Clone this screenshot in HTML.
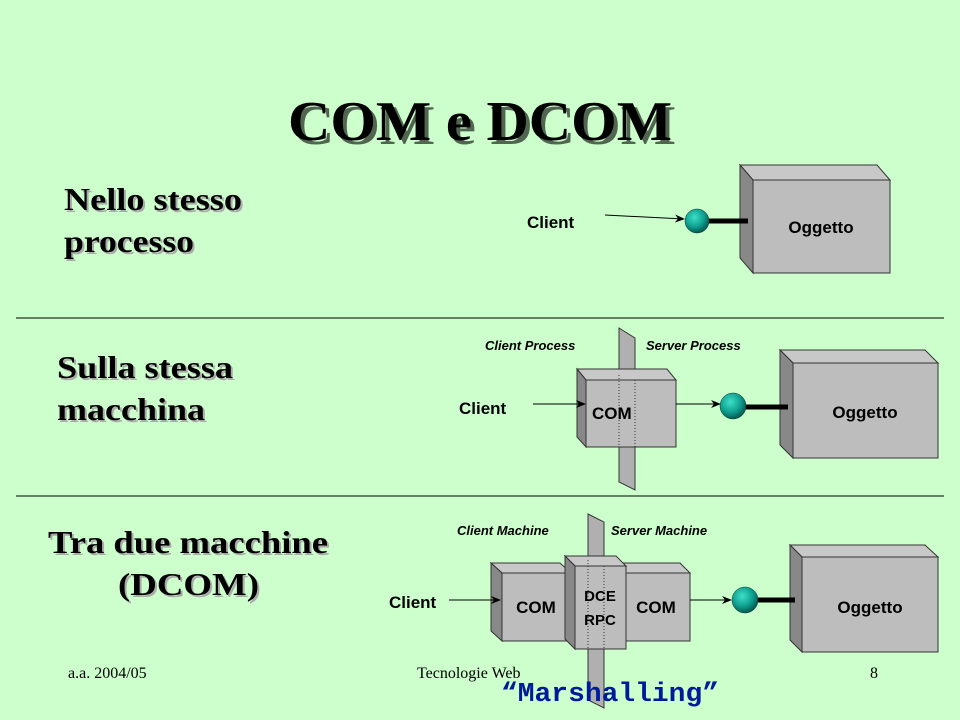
<!DOCTYPE html>
<html><head><meta charset="utf-8"><style>
html,body{margin:0;padding:0;background:#ccffcc;}
svg{display:block}
.h{font-family:"Liberation Serif",serif;font-weight:bold;fill:#000}
.s{font-family:"Liberation Sans",sans-serif;font-weight:bold;fill:#000}
.it{font-family:"Liberation Sans",sans-serif;font-weight:bold;font-style:italic;fill:#000;font-size:13px}
.f{font-family:"Liberation Serif",serif;font-size:16px;fill:#000}
</style></head><body>
<svg width="960" height="720" viewBox="0 0 960 720" xmlns="http://www.w3.org/2000/svg">
<defs>
<radialGradient id="ball" cx="40%" cy="35%" r="65%"><stop offset="0" stop-color="#3de0c8"/><stop offset="0.6" stop-color="#0fa090"/><stop offset="1" stop-color="#045a50"/></radialGradient>
<marker id="ar" markerWidth="10" markerHeight="8" refX="9" refY="4" orient="auto" markerUnits="userSpaceOnUse"><path d="M0,0 L10,4 L0,8 L3,4 z" fill="#000"/></marker>
</defs>
<rect width="960" height="720" fill="#ccffcc"/>
<!-- title -->
<text x="482" y="142" class="h" font-size="56" text-anchor="middle" textLength="384" lengthAdjust="spacingAndGlyphs" fill="#999" opacity="0.6" transform="translate(2,2)">COM e DCOM</text>
<text x="480" y="140" class="h" font-size="56" text-anchor="middle" textLength="384" lengthAdjust="spacingAndGlyphs">COM e DCOM</text>
<!-- headings -->
<g class="h" font-size="32">
<text x="66" y="212" fill="#aaa" textLength="178" lengthAdjust="spacingAndGlyphs">Nello stesso</text>
<text x="64" y="210" textLength="178" lengthAdjust="spacingAndGlyphs">Nello stesso</text>
<text x="66" y="254" fill="#aaa" textLength="130" lengthAdjust="spacingAndGlyphs">processo</text>
<text x="64" y="252" textLength="130" lengthAdjust="spacingAndGlyphs">processo</text>
<text x="59" y="380" fill="#aaa" textLength="176" lengthAdjust="spacingAndGlyphs">Sulla stessa</text>
<text x="57" y="378" textLength="176" lengthAdjust="spacingAndGlyphs">Sulla stessa</text>
<text x="59" y="422" fill="#aaa" textLength="148" lengthAdjust="spacingAndGlyphs">macchina</text>
<text x="57" y="420" textLength="148" lengthAdjust="spacingAndGlyphs">macchina</text>
<text x="50" y="555" fill="#aaa" textLength="280" lengthAdjust="spacingAndGlyphs">Tra due macchine</text>
<text x="48" y="553" textLength="280" lengthAdjust="spacingAndGlyphs">Tra due macchine</text>
<text x="120" y="597" fill="#aaa" textLength="141" lengthAdjust="spacingAndGlyphs">(DCOM)</text>
<text x="118" y="595" textLength="141" lengthAdjust="spacingAndGlyphs">(DCOM)</text>
</g>
<line x1="16" y1="318" x2="944" y2="318" stroke="#000" stroke-width="1"/>
<line x1="16" y1="496" x2="944" y2="496" stroke="#000" stroke-width="1"/>

<!-- section 1 -->
<g stroke="#333" stroke-width="1">
<polygon points="740,165 877,165 890,180 753,180" fill="#c8c8c8"/>
<polygon points="740,165 753,180 753,273 740,258" fill="#888"/>
<rect x="753" y="180" width="137" height="93" fill="#bdbdbd"/>
</g>
<text x="821" y="233" class="s" font-size="17" text-anchor="middle">Oggetto</text>
<line x1="709" y1="221" x2="748" y2="221" stroke="#000" stroke-width="5"/>
<line x1="605" y1="215" x2="684" y2="219" stroke="#000" stroke-width="1" marker-end="url(#ar)"/>
<circle cx="697" cy="221" r="12" fill="url(#ball)" stroke="#033" stroke-width="0.5"/>
<text x="527" y="228" class="s" font-size="17">Client</text>

<!-- section 2 -->
<text x="485" y="350" class="it">Client Process</text>
<text x="646" y="350" class="it">Server Process</text>
<g stroke="#333" stroke-width="1">
<polygon points="619,328 635,338 635,388 619,380" fill="#b0b0b0"/>
<polygon points="577,369 667,369 676,380 586,380" fill="#c8c8c8"/>
<polygon points="577,369 586,380 586,447 577,437" fill="#888"/>
<rect x="586" y="380" width="90" height="67" fill="#bdbdbd"/>
<polygon points="619,447 635,447 635,490 619,482" fill="#b0b0b0"/>
</g>
<line x1="619" y1="375" x2="619" y2="447" stroke="#333" stroke-dasharray="1,2"/>
<line x1="635" y1="380" x2="635" y2="447" stroke="#333" stroke-dasharray="1,2"/>
<text x="592" y="419" class="s" font-size="17">COM</text>
<text x="459" y="414" class="s" font-size="17">Client</text>
<line x1="533" y1="404" x2="585" y2="404" stroke="#000" marker-end="url(#ar)"/>
<line x1="676" y1="404" x2="720" y2="404" stroke="#000" marker-end="url(#ar)"/>
<g stroke="#333" stroke-width="1">
<polygon points="780,350 925,350 938,363 793,363" fill="#c8c8c8"/>
<polygon points="780,350 793,363 793,458 780,445" fill="#888"/>
<rect x="793" y="363" width="145" height="95" fill="#bdbdbd"/>
</g>
<text x="865" y="418" class="s" font-size="17" text-anchor="middle">Oggetto</text>
<line x1="745" y1="407" x2="788" y2="407" stroke="#000" stroke-width="5"/>
<circle cx="733" cy="406" r="13" fill="url(#ball)" stroke="#033" stroke-width="0.5"/>

<!-- section 3 -->
<text x="457" y="535" class="it">Client Machine</text>
<text x="611" y="535" class="it">Server Machine</text>
<g stroke="#333" stroke-width="1">
<polygon points="588,514 604,522 604,575 588,566" fill="#b0b0b0"/>
<polygon points="491,563 560,563 571,573 502,573" fill="#c8c8c8"/>
<polygon points="491,563 502,573 502,641 491,631" fill="#888"/>
<rect x="502" y="573" width="69" height="68" fill="#bdbdbd"/>
<polygon points="615,563 680,563 690,573 626,573" fill="#c8c8c8"/>
<rect x="626" y="573" width="64" height="68" fill="#bdbdbd"/>
<polygon points="565,556 616,556 626,566 575,566" fill="#c8c8c8"/>
<polygon points="565,556 575,566 575,649 565,639" fill="#888"/>
<rect x="575" y="566" width="51" height="83" fill="#bdbdbd"/>
<polygon points="588,649 604,649 604,708 588,700" fill="#b0b0b0"/>
</g>
<line x1="588" y1="560" x2="588" y2="649" stroke="#333" stroke-dasharray="1,2"/>
<line x1="604" y1="566" x2="604" y2="649" stroke="#333" stroke-dasharray="1,2"/>
<text x="536" y="613" class="s" font-size="17" text-anchor="middle">COM</text>
<text x="600" y="601" class="s" font-size="15" text-anchor="middle">DCE</text>
<text x="600" y="625" class="s" font-size="15" text-anchor="middle">RPC</text>
<text x="656" y="613" class="s" font-size="17" text-anchor="middle">COM</text>
<text x="389" y="608" class="s" font-size="17">Client</text>
<line x1="449" y1="600" x2="500" y2="600" stroke="#000" marker-end="url(#ar)"/>
<line x1="690" y1="600" x2="731" y2="600" stroke="#000" marker-end="url(#ar)"/>
<g stroke="#333" stroke-width="1">
<polygon points="790,545 925,545 938,557 802,557" fill="#c8c8c8"/>
<polygon points="790,545 802,557 802,652 790,640" fill="#888"/>
<rect x="802" y="557" width="136" height="95" fill="#bdbdbd"/>
</g>
<text x="870" y="613" class="s" font-size="17" text-anchor="middle">Oggetto</text>
<line x1="757" y1="600" x2="795" y2="600" stroke="#000" stroke-width="5"/>
<circle cx="745" cy="600" r="13" fill="url(#ball)" stroke="#033" stroke-width="0.5"/>

<!-- footer -->
<text x="68" y="678" class="f">a.a. 2004/05</text>
<text x="417" y="678" class="f">Tecnologie Web</text>
<text x="870" y="678" class="f">8</text>
<text x="501" y="701" font-family="'Liberation Mono','DejaVu Sans Mono',monospace" font-weight="bold" font-size="27" fill="#001a99" textLength="218" lengthAdjust="spacingAndGlyphs">“Marshalling”</text>
</svg>
</body></html>
